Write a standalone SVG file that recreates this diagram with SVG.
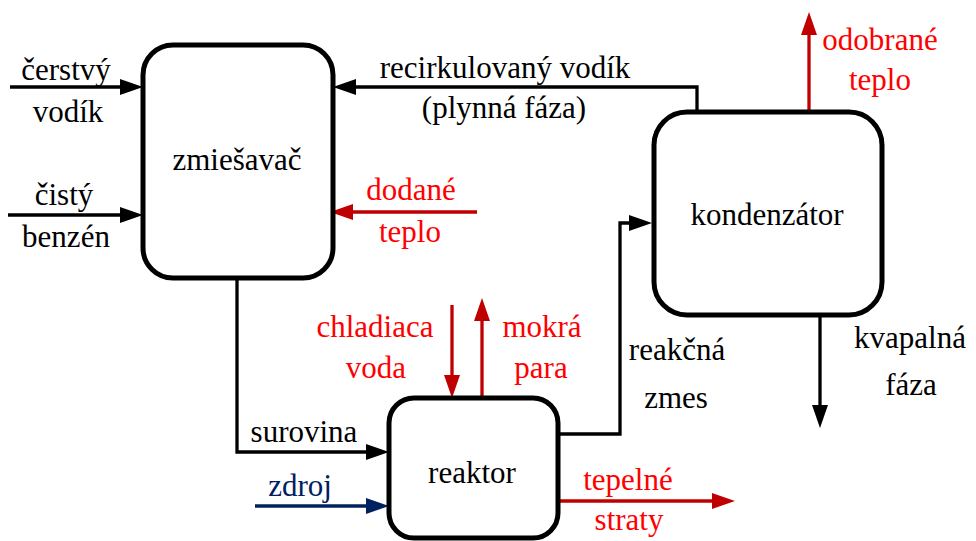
<svg xmlns="http://www.w3.org/2000/svg" width="976" height="541" viewBox="0 0 976 541">
<defs>
<style>
.box{fill:#fff;stroke:#000;stroke-width:5}
.c{fill:none;stroke-width:3.3;stroke-linejoin:miter}
.k{stroke:#000}
.r{stroke:#c00000}
.b{stroke:#002060}
.tk{fill:#000}
.tr{fill:#ff0000}
.tb{fill:#002060}
</style>
<marker id="ak" markerUnits="userSpaceOnUse" markerWidth="24" markerHeight="18" refX="12" refY="8" orient="auto"><path d="M0,0 L23,8 L0,16 z" fill="#000"/></marker>
<marker id="ar" markerUnits="userSpaceOnUse" markerWidth="24" markerHeight="18" refX="12" refY="8" orient="auto"><path d="M0,0 L23,8 L0,16 z" fill="#c00000"/></marker>
<marker id="ab" markerUnits="userSpaceOnUse" markerWidth="24" markerHeight="18" refX="12" refY="8" orient="auto"><path d="M0,0 L23,8 L0,16 z" fill="#002060"/></marker>
</defs>
<rect width="976" height="541" fill="#fff"/>
<g id="connectors">
<path class="c k" d="M10,87 H132" marker-end="url(#ak)"/>
<path class="c k" d="M8,215 H132" marker-end="url(#ak)"/>
<path class="c k" d="M697,112 V87 H344" marker-end="url(#ak)"/>
<path class="c r" d="M477,212 H341" marker-end="url(#ar)"/>
<path class="c k" d="M558,434 H620 V223 H641" marker-end="url(#ak)"/>
<path class="c r" d="M809,112 V23" marker-end="url(#ar)"/>
<path class="c k" d="M820,315 V417" marker-end="url(#ak)"/>
<path class="c r" d="M452,305 V387" marker-end="url(#ar)"/>
<path class="c r" d="M482,398 V309" marker-end="url(#ar)"/>
<path class="c k" d="M237,278 V452 H378" marker-end="url(#ak)"/>
<path class="c b" d="M255,506 H378" marker-end="url(#ab)"/>
<path class="c r" d="M558,501 H724" marker-end="url(#ar)"/>
</g>
<g font-family="'Liberation Serif', 'Times New Roman', serif" font-size="31" text-anchor="middle">
<g id="zmiesavac">
<rect class="box" x="143" y="45" width="190" height="233" rx="30"/>
<text class="tk" x="237" y="170">zmiešavač</text>
</g>
<g id="kondenzator">
<rect class="box" x="654" y="112" width="228" height="203" rx="33"/>
<text class="tk" x="767" y="225">kondenzátor</text>
</g>
<g id="reaktor">
<rect class="box" x="389" y="398" width="169" height="140" rx="25"/>
<text class="tk" x="472" y="483">reaktor</text>
</g>
<g id="labels">
<text class="tk" x="66" y="80">čerstvý</text>
<text class="tk" x="68" y="122">vodík</text>
<text class="tk" x="64" y="205">čistý</text>
<text class="tk" x="66" y="247">benzén</text>
<text class="tk" x="505" y="78">recirkulovaný vodík</text>
<text class="tk" x="504" y="118">(plynná fáza)</text>
<text class="tr" x="411" y="200">dodané</text>
<text class="tr" x="410" y="242">teplo</text>
<text class="tr" x="880" y="50">odobrané</text>
<text class="tr" x="880" y="90">teplo</text>
<text class="tr" x="375" y="337">chladiaca</text>
<text class="tr" x="376" y="378">voda</text>
<text class="tr" x="542" y="337">mokrá</text>
<text class="tr" x="541" y="378">para</text>
<text class="tk" x="677" y="360">reakčná</text>
<text class="tk" x="676" y="408">zmes</text>
<text class="tk" x="910" y="348">kvapalná</text>
<text class="tk" x="911" y="395">fáza</text>
<text class="tk" x="304" y="442">surovina</text>
<text class="tb" x="300" y="496">zdroj</text>
<text class="tr" x="628" y="490">tepelné</text>
<text class="tr" x="629" y="530">straty</text>
</g>
</g>
</svg>
